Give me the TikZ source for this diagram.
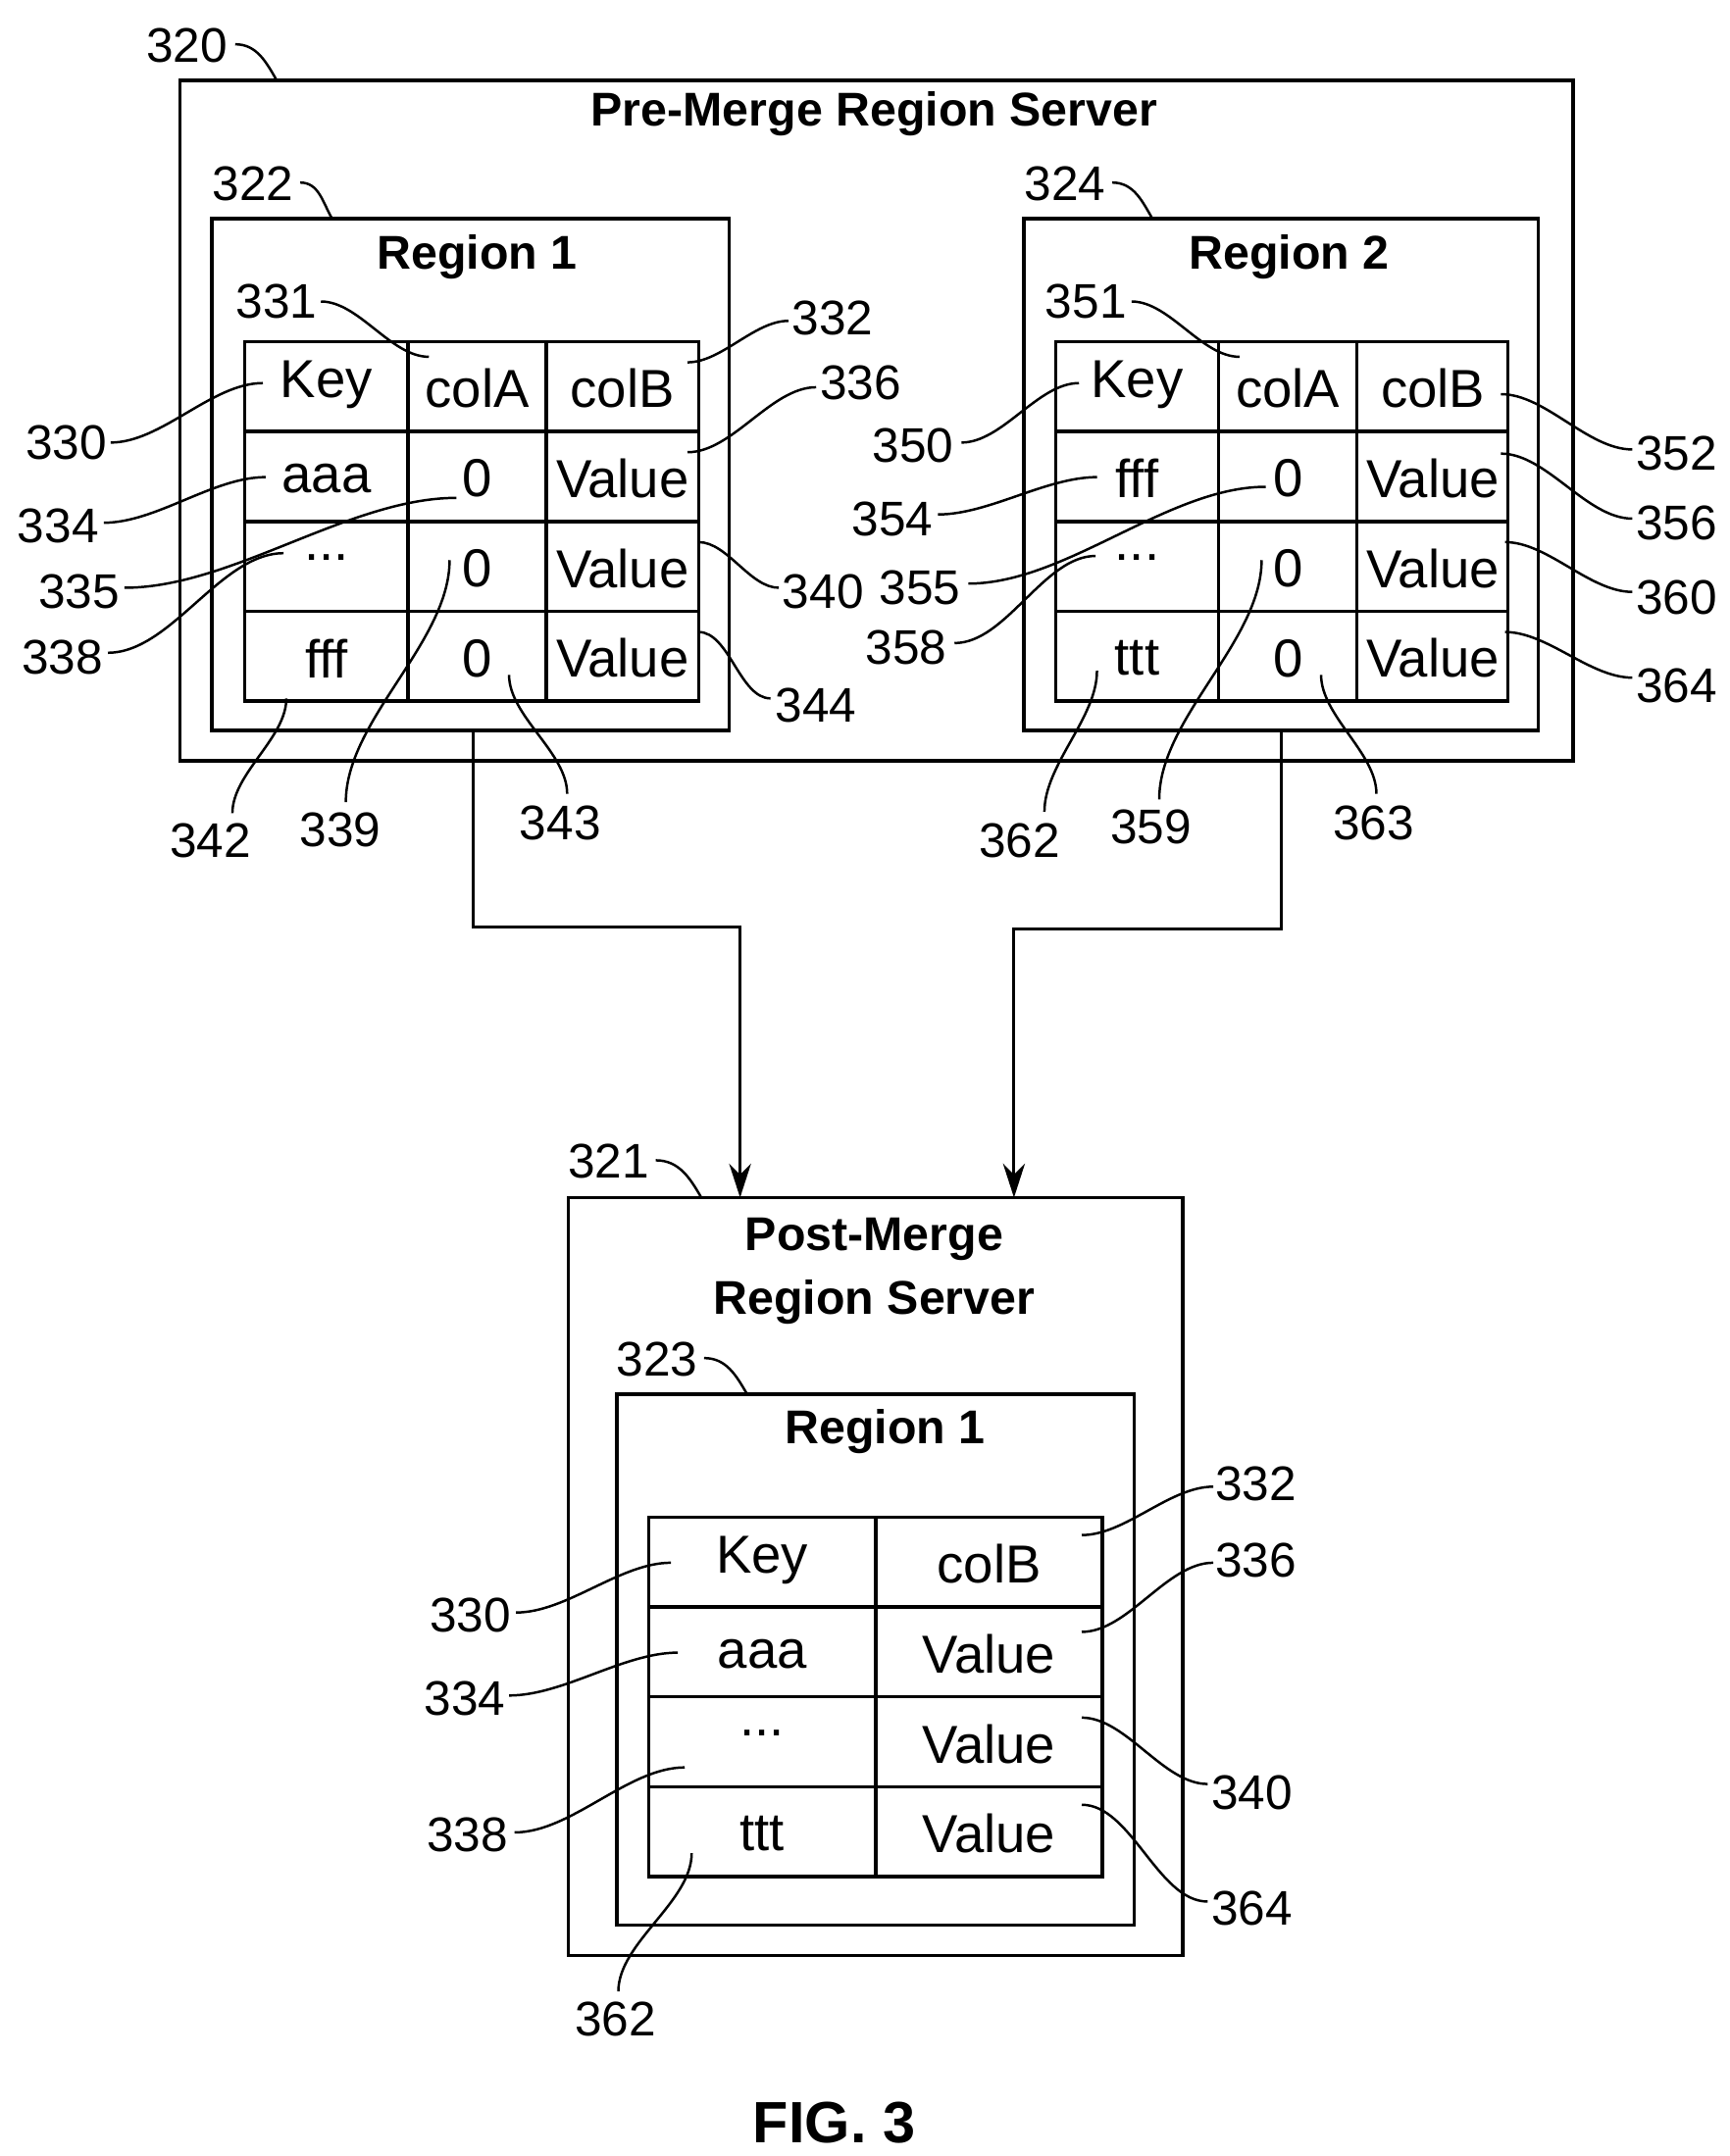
\documentclass[tikz,border=0pt]{standalone}
\usepackage{fontspec}
\setmainfont{Liberation Sans}
\usetikzlibrary{arrows.meta}
\begin{document}
\begin{tikzpicture}[x=0.02cm,y=-0.02cm,line width=1.4pt,
 cell/.style={font=\fontsize{22}{24}\selectfont,inner sep=0pt},
 lab/.style={font=\fontsize{20}{22}\selectfont,inner sep=1pt},
 ttl/.style={font=\bfseries\fontsize{19.5}{26}\selectfont,align=center},
 leader/.style={line width=1pt},
 H/.style={out=0,in=180,looseness=0.8},
 HL/.style={out=180,in=0,looseness=0.8},
 V/.style={out=90,in=-90,looseness=0.8},
 arr/.style={-{Stealth[length=14pt,width=9pt]}}]
\useasboundingbox (0,0) rectangle (1250,1559);
% boxes
\draw (130,58) rectangle (1137,550);
\node[ttl] (t320) at (632,82) {Pre-Merge Region Server};
\draw (153,158) rectangle (527,528);
\node[ttl] (r1) at (345,186) {Region 1};
\draw (740,158) rectangle (1112,528);
\node[ttl] (r2) at (932,186) {Region 2};
% table 1
\draw (177,247) rectangle (505,507);
\foreach \y in {312,377,442} \draw (177,\y)--(505,\y);
\foreach \x in {295,395} \draw (\x,247)--(\x,507);
\node[cell] (k1) at (236,278) {Key};
\node[cell] (a1) at (345,281) {colA};
\node[cell] (b1) at (450,281) {colB};
\node[cell] (k1a) at (236,346) {aaa};
\node[cell] (a1a) at (345,346) {0};
\node[cell] (b1a) at (450,346) {Value};
\node[cell] (k1b) at (236,403) {...};
\node[cell] (a1b) at (345,411) {0};
\node[cell] (b1b) at (450,411) {Value};
\node[cell] (k1c) at (236,476) {fff};
\node[cell] (a1c) at (345,476) {0};
\node[cell] (b1c) at (450,476) {Value};
% table 2
\draw (763,247) rectangle (1090,507);
\foreach \y in {312,377,442} \draw (763,\y)--(1090,\y);
\foreach \x in {881,981} \draw (\x,247)--(\x,507);
\node[cell] (k2) at (822,278) {Key};
\node[cell] (a2) at (931,281) {colA};
\node[cell] (b2) at (1036,281) {colB};
\node[cell] (k2a) at (822,346) {fff};
\node[cell] (a2a) at (931,346) {0};
\node[cell] (b2a) at (1036,346) {Value};
\node[cell] (k2b) at (822,403) {...};
\node[cell] (a2b) at (931,411) {0};
\node[cell] (b2b) at (1036,411) {Value};
\node[cell] (k2c) at (822,476) {ttt};
\node[cell] (a2c) at (931,476) {0};
\node[cell] (b2c) at (1036,476) {Value};
% post merge
\draw (411,866) rectangle (855,1414);
\node[ttl] (t321) at (632,919) {Post-Merge\\Region Server};
\draw (446,1008) rectangle (820,1392);
\node[ttl] (r3) at (640,1035) {Region 1};
\draw (469,1097) rectangle (797,1357);
\foreach \y in {1162,1227,1292} \draw (469,\y)--(797,\y);
\draw (633,1097)--(633,1357);
\node[cell] (k3) at (551,1128) {Key};
\node[cell] (b3) at (715,1131) {colB};
\node[cell] (k3a) at (551,1196) {aaa};
\node[cell] (b3a) at (715,1196) {Value};
\node[cell] (k3b) at (551,1253) {...};
\node[cell] (b3b) at (715,1261) {Value};
\node[cell] (k3c) at (551,1326) {ttt};
\node[cell] (b3c) at (715,1326) {Value};
% arrows
\coordinate (s1) at (342,528); \coordinate (e1) at (535,866);
\coordinate (s2) at (926,528); \coordinate (e2) at (733,866);
\draw[arr,line width=1.2pt] (s1)--(342,670)--(535,670)--(e1);
\draw[arr,line width=1.2pt] (s2)--(926,672)--(733,672)--(e2);
% labels top
\node[lab] (l320) at (135,33) {320};
\draw[leader] (170,32) to[out=0,in=120] (200,58);
\node[lab] (l322) at (183,133) {322};
\draw[leader] (217,132) to[out=0,in=120] (240,158);
\node[lab] (l324) at (770,133) {324};
\draw[leader] (804,132) to[out=0,in=120] (833,158);
\node[lab] (l331) at (200,218) {331};
\draw[leader] (232,218) to[H] (310,258);
\node[lab] (l332) at (602,230) {332};
\draw[leader] (570,232) to[HL] (497,262);
\node[lab] (l330) at (48,320) {330};
\draw[leader] (80,320) to[H] (190,277);
\node[lab] (l336) at (622,277) {336};
\draw[leader] (590,280) to[HL] (497,327);
\node[lab] (l334) at (42,380) {334};
\draw[leader] (75,378) to[H] (192,345);
\node[lab] (l335) at (57,428) {335};
\draw[leader] (90,425) to[H] (330,360);
\node[lab] (l340) at (595,428) {340};
\draw[leader] (563,425) to[HL] (505,392);
\node[lab] (l338) at (45,475) {338};
\draw[leader] (78,472) to[H] (205,400);
\node[lab] (l344) at (590,510) {344};
\draw[leader] (557,505) to[HL] (505,457);
\node[lab] (l342) at (152,608) {342};
\draw[leader] (168,588) to[V] (207,505);
\node[lab] (l339) at (246,600) {339};
\draw[leader] (250,580) to[V] (325,405);
\node[lab] (l343) at (405,595) {343};
\draw[leader] (410,574) to[V] (368,488);
% labels region 2
\node[lab] (l351) at (785,218) {351};
\draw[leader] (818,218) to[H] (896,258);
\node[lab] (l350) at (660,322) {350};
\draw[leader] (695,320) to[H] (780,277);
\node[lab] (l352) at (1212,328) {352};
\draw[leader] (1180,325) to[HL] (1085,285);
\node[lab] (l354) at (645,375) {354};
\draw[leader] (678,372) to[H] (793,345);
\node[lab] (l356) at (1212,378) {356};
\draw[leader] (1180,375) to[HL] (1085,328);
\node[lab] (l355) at (665,425) {355};
\draw[leader] (700,422) to[H] (915,352);
\node[lab] (l360) at (1212,432) {360};
\draw[leader] (1180,428) to[HL] (1088,392);
\node[lab] (l358) at (655,468) {358};
\draw[leader] (690,465) to[H] (792,402);
\node[lab] (l364) at (1212,496) {364};
\draw[leader] (1180,490) to[HL] (1088,457);
\node[lab] (l362) at (737,608) {362};
\draw[leader] (755,587) to[V] (793,485);
\node[lab] (l359) at (832,598) {359};
\draw[leader] (838,578) to[V] (912,405);
\node[lab] (l363) at (993,595) {363};
\draw[leader] (995,574) to[V] (955,488);
% labels bottom
\node[lab] (l321) at (440,840) {321};
\draw[leader] (474,839) to[out=0,in=120] (507,866);
\node[lab] (l323) at (475,983) {323};
\draw[leader] (509,982) to[out=0,in=120] (540,1008);
\node[lab] (m332) at (908,1073) {332};
\draw[leader] (877,1075) to[HL] (782,1110);
\node[lab] (m336) at (908,1128) {336};
\draw[leader] (877,1130) to[HL] (782,1180);
\node[lab] (m330) at (340,1168) {330};
\draw[leader] (373,1166) to[H] (485,1130);
\node[lab] (m334) at (336,1228) {334};
\draw[leader] (368,1226) to[H] (490,1195);
\node[lab] (m340) at (905,1296) {340};
\draw[leader] (873,1290) to[HL] (782,1242);
\node[lab] (m338) at (338,1327) {338};
\draw[leader] (372,1325) to[H] (495,1278);
\node[lab] (m364) at (905,1380) {364};
\draw[leader] (873,1375) to[HL] (782,1305);
\node[lab] (m362) at (445,1460) {362};
\draw[leader] (447,1440) to[V] (500,1340);
\node[font=\bfseries\fontsize{24}{26}\selectfont] (fig) at (603,1535) {FIG. 3};
\end{tikzpicture}
\end{document}
